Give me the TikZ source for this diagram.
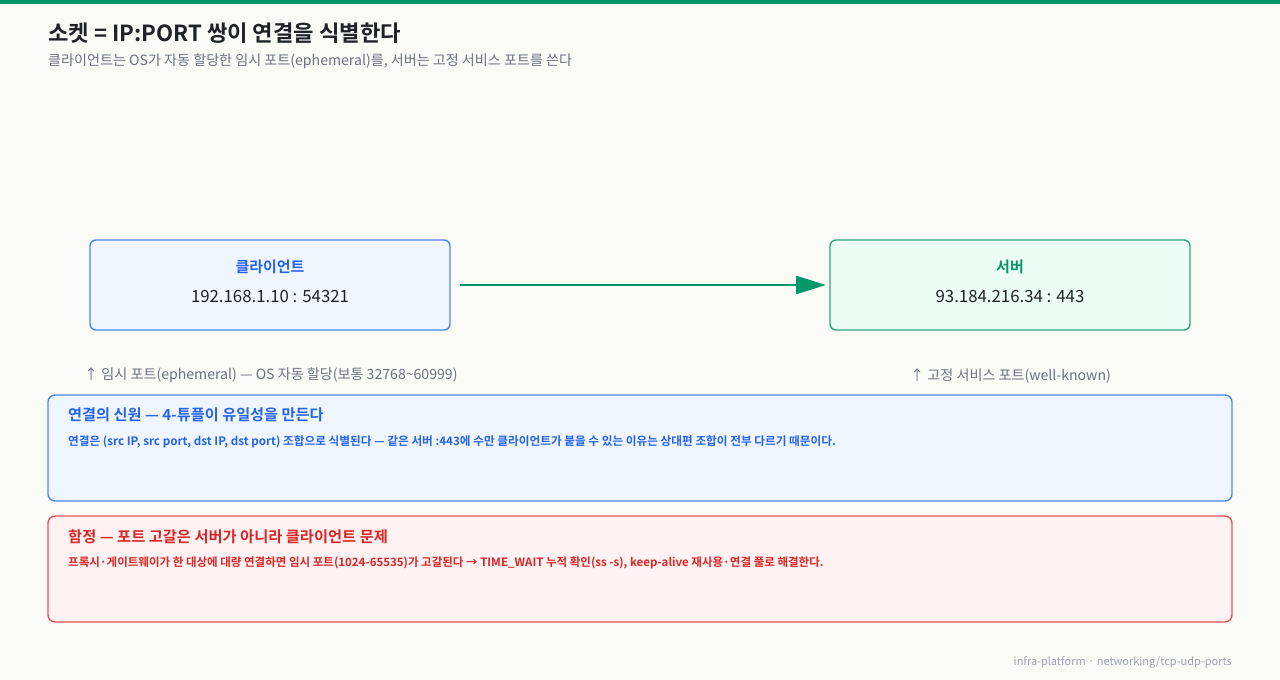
\documentclass[tikz,border=0pt]{standalone}
\usepackage{fontspec}
\setmainfont{Noto Sans CJK KR}
\newfontfamily\kbold{Noto Sans CJK KR}[UprightFont=* Bold]
\usetikzlibrary{arrows.meta}
\definecolor{bg}{HTML}{FAFAF7}
\definecolor{topbar}{HTML}{059669}
\definecolor{ink}{HTML}{1F2328}
\definecolor{sub}{HTML}{6B7280}
\definecolor{foot}{HTML}{9CA3AF}
\definecolor{blueT}{HTML}{2563EB}
\definecolor{blueB}{HTML}{4F86EC}
\definecolor{blueF}{HTML}{EFF6FF}
\definecolor{greenT}{HTML}{059669}
\definecolor{greenB}{HTML}{2FA57F}
\definecolor{greenF}{HTML}{ECFDF5}
\definecolor{redT}{HTML}{DC2626}
\definecolor{redB}{HTML}{E35555}
\definecolor{redF}{HTML}{FEF2F2}
\tikzset{
  hostbox/.style={draw, line width=1.4pt, rounded corners=6pt, minimum width=360pt, minimum height=90pt},
  notebox/.style={draw, line width=1.4pt, rounded corners=7pt, minimum width=1184pt, minimum height=106pt},
  lbl/.style={anchor=west, inner sep=0pt},
}
\begin{document}
\begin{tikzpicture}[x=1pt,y=-1pt]
\useasboundingbox (0,0) rectangle (1280,680);
\fill[bg] (0,0) rectangle (1280,680);
\fill[topbar] (0,0) rectangle (1280,4);
\node[lbl, text=ink] (title) at (48,33) {\fontsize{22.2pt}{26pt}\kbold 소켓 = IP:PORT 쌍이 연결을 식별한다};
\node[lbl, text=sub] (subtitle) at (48,61.5) {\fontsize{14.1pt}{17pt}\selectfont 클라이언트는 OS가 자동 할당한 임시 포트(ephemeral)를, 서버는 고정 서비스 포트를 쓴다};
% hosts
\node[hostbox, draw=blueB, fill=blueF] (client) at (270,285) {};
\node[text=blueT] (clientT) at (270,266.5) {\fontsize{15pt}{18pt}\kbold 클라이언트};
\node[text=ink] (clientA) at (270,296.5) {\fontsize{16.8pt}{20pt}\selectfont 192.168.1.10 : 54321};
\node[hostbox, draw=greenB, fill=greenF] (server) at (1010,285) {};
\node[text=greenT] (serverT) at (1010,266.5) {\fontsize{15pt}{18pt}\kbold 서버};
\node[text=ink] (serverA) at (1010,296.5) {\fontsize{16.8pt}{20pt}\selectfont 93.184.216.34 : 443};
\coordinate (arrS) at (460,285);
\coordinate (arrE) at (826,285);
\draw[greenT, line width=2.8pt, -{Triangle[length=30pt,width=18pt]}] (arrS) -- (arrE);
% annotations
\node[lbl, text=sub] (annL) at (84,375.5) {\fontsize{14.1pt}{17pt}\selectfont ↑ 임시 포트(ephemeral) — OS 자동 할당(보통 32768\textasciitilde60999)};
\node[lbl, text=sub] (annR) at (910,375.5) {\fontsize{14.1pt}{17pt}\selectfont ↑ 고정 서비스 포트(well-known)};
% note boxes
\node[notebox, draw=blueB, fill=blueF] (note1) at (640,448) {};
\node[lbl, text=blueT] (note1T) at (68,415) {\fontsize{15.2pt}{18pt}\kbold 연결의 신원 — 4-튜플이 유일성을 만든다};
\node[lbl, text=blueT] (note1B) at (68,441.5) {\fontsize{11.65pt}{14pt}\kbold 연결은 (src IP, src port, dst IP, dst port) 조합으로 식별된다 — 같은 서버 :443에 수만 클라이언트가 붙을 수 있는 이유는 상대편 조합이 전부 다르기 때문이다.};
\node[notebox, draw=redB, fill=redF] (note2) at (640,569) {};
\node[lbl, text=redT] (note2T) at (68,537) {\fontsize{15.3pt}{18pt}\kbold 함정 — 포트 고갈은 서버가 아니라 클라이언트 문제};
\node[lbl, text=redT] (note2B) at (68,562.5) {\fontsize{11.5pt}{14pt}\kbold 프록시·게이트웨이가 한 대상에 대량 연결하면 임시 포트(1024-65535)가 고갈된다 → TIME\_WAIT 누적 확인(ss -s), keep-alive 재사용·연결 풀로 해결한다.};
% footer
\node[anchor=east, inner sep=0pt, text=foot] (footer) at (1232,662.5) {\fontsize{11pt}{14pt}\selectfont infra-platform · networking/tcp-udp-ports};
\end{tikzpicture}
\end{document}
